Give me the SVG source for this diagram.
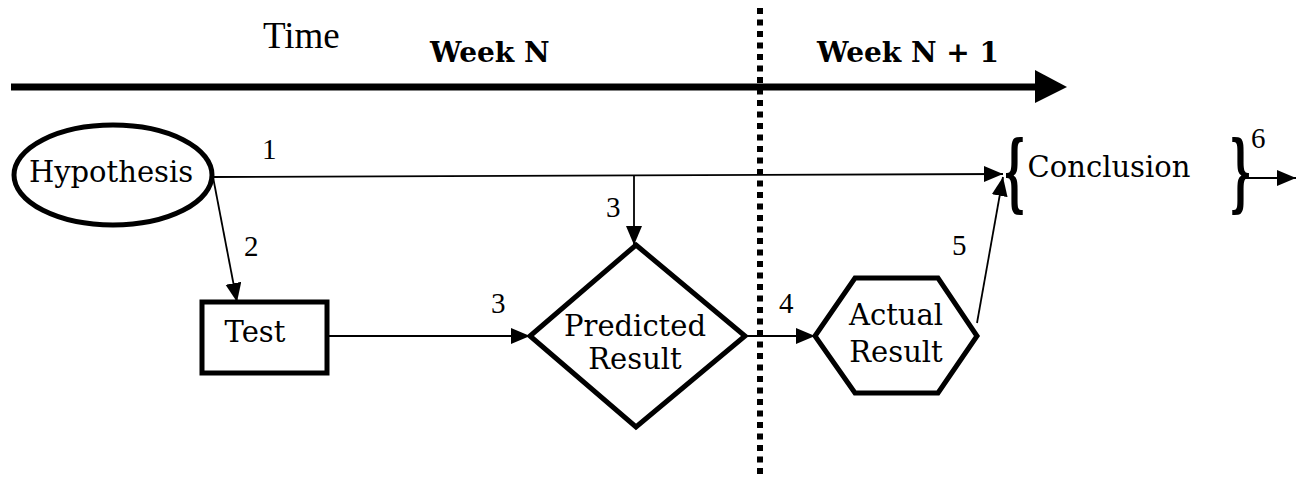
<svg xmlns="http://www.w3.org/2000/svg" width="1304" height="477" viewBox="0 0 1304 477">
<style>
.node{fill:#fff;stroke:#000;stroke-width:5}
.lbl{font-family:"DejaVu Serif","Liberation Serif",serif;font-size:29px;fill:#000;text-anchor:middle}
.num{font-family:"Liberation Serif","DejaVu Serif",serif;font-size:29px;fill:#000}
.wk{font-family:"DejaVu Serif","Liberation Serif",serif;font-size:28px;font-weight:bold;fill:#000}
.conn{fill:none;stroke:#000;stroke-width:1.8}
.brace{font-family:"DejaVu Serif","Liberation Serif",serif;font-size:85px;font-weight:bold;fill:#000}
</style>
<defs>
<marker id="arr" markerUnits="userSpaceOnUse" markerWidth="20" markerHeight="18" refX="19" refY="8" orient="auto">
<path d="M0,0 L19,8 L0,16 z" fill="#000"/>
</marker>
</defs>
<g id="timeline">
<line x1="11" y1="87" x2="1038" y2="87" stroke="#000" stroke-width="7"/>
<polygon points="1035,70 1067,87 1035,103" fill="#000"/>
<text x="263" y="48" font-family="Liberation Serif, serif" font-size="37">Time</text>
<text class="wk" x="430" y="62">Week N</text>
<text class="wk" x="817" y="62">Week N + 1</text>
<line x1="760" y1="8" x2="760" y2="477" stroke="#000" stroke-width="6" stroke-dasharray="6 5.5"/>
</g>
<g id="connectors">
<line class="conn" x1="213" y1="177" x2="1003" y2="174" marker-end="url(#arr)"/>
<line class="conn" x1="213" y1="177" x2="237" y2="302" marker-end="url(#arr)"/>
<line class="conn" x1="634" y1="175" x2="634" y2="245" marker-end="url(#arr)"/>
<line class="conn" x1="327" y1="336" x2="530" y2="336" marker-end="url(#arr)"/>
<line class="conn" x1="745" y1="336" x2="815" y2="336" marker-end="url(#arr)"/>
<line class="conn" x1="977" y1="323" x2="1003" y2="177" marker-end="url(#arr)"/>
<line class="conn" x1="1244" y1="178" x2="1296" y2="178" marker-end="url(#arr)"/>
<text class="num" x="262" y="159">1</text>
<text class="num" x="244" y="256">2</text>
<text class="num" x="606" y="217">3</text>
<text class="num" x="491" y="313">3</text>
<text class="num" x="779" y="313">4</text>
<text class="num" x="952" y="255">5</text>
<text class="num" x="1251" y="148">6</text>
</g>
<g id="hypothesis">
<ellipse class="node" cx="113" cy="175" rx="99" ry="50"/>
<text class="lbl" x="111" y="182">Hypothesis</text>
</g>
<g id="test">
<rect class="node" x="202" y="302" width="125" height="71"/>
<text class="lbl" x="255" y="342">Test</text>
</g>
<g id="predicted">
<polygon class="node" points="636,245 745,336 636,427 530,336"/>
<text class="lbl" x="635" y="336">Predicted</text>
<text class="lbl" x="635" y="369">Result</text>
</g>
<g id="actual">
<polygon class="node" points="815,336 855,278 938,278 977,336 938,393 855,393"/>
<text class="lbl" x="896" y="325">Actual</text>
<text class="lbl" x="896" y="362">Result</text>
</g>
<g id="conclusion">
<text class="brace" transform="translate(1003,201) scale(0.42,1)">{</text>
<text class="lbl" x="1109" y="177">Conclusion</text>
<text class="brace" transform="translate(1229,201) scale(0.42,1)">}</text>
</g>
</svg>
